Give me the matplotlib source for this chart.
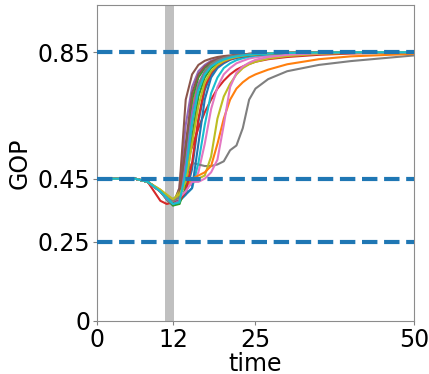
import matplotlib
matplotlib.use("Agg")
import matplotlib.pyplot as plt

# time grid shared by all runs
time = [0, 6, 8, 10, 11, 12, 13, 14, 15, 16, 17, 18, 19, 20, 21, 22, 23, 24, 25, 27, 30, 35, 40, 50]

run01 = [0.45,0.45,0.44,0.41,0.39,0.375,0.38,0.40,0.48,0.63,0.73,0.78,0.805,0.82,0.828,0.833,0.837,0.84,0.842,0.845,0.847,0.849,0.85,0.85]
run02 = [0.45,0.45,0.44,0.415,0.395,0.38,0.40,0.55,0.68,0.75,0.785,0.805,0.818,0.826,0.832,0.836,0.839,0.841,0.843,0.846,0.848,0.849,0.85,0.85]
run03 = [0.45,0.45,0.44,0.41,0.385,0.37,0.37,0.53,0.70,0.77,0.80,0.815,0.825,0.831,0.835,0.838,0.84,0.842,0.844,0.846,0.848,0.849,0.85,0.85]
run04 = [0.45,0.45,0.44,0.38,0.37,0.375,0.38,0.50,0.55,0.61,0.66,0.70,0.735,0.76,0.78,0.795,0.805,0.813,0.82,0.828,0.835,0.842,0.846,0.85]
run05 = [0.45,0.45,0.44,0.41,0.385,0.365,0.42,0.62,0.74,0.79,0.81,0.823,0.83,0.835,0.838,0.841,0.843,0.845,0.846,0.847,0.848,0.849,0.85,0.85]
run06 = [0.45,0.45,0.44,0.41,0.39,0.37,0.42,0.70,0.78,0.81,0.823,0.83,0.835,0.838,0.84,0.842,0.843,0.845,0.846,0.847,0.848,0.849,0.85,0.85]
run07 = [0.45,0.45,0.44,0.41,0.39,0.38,0.40,0.43,0.43,0.47,0.56,0.67,0.74,0.78,0.80,0.815,0.823,0.83,0.834,0.839,0.843,0.847,0.849,0.85]
run08 = [0.45,0.45,0.44,0.41,0.395,0.385,0.40,0.46,0.50,0.495,0.49,0.49,0.495,0.505,0.54,0.555,0.61,0.70,0.735,0.765,0.79,0.81,0.822,0.84]
run09 = [0.45,0.45,0.44,0.41,0.39,0.38,0.41,0.43,0.44,0.45,0.46,0.52,0.64,0.71,0.75,0.78,0.80,0.812,0.82,0.83,0.838,0.845,0.848,0.85]
run10 = [0.45,0.45,0.44,0.41,0.385,0.37,0.38,0.40,0.42,0.50,0.62,0.72,0.77,0.80,0.815,0.825,0.831,0.836,0.839,0.843,0.846,0.849,0.85,0.85]
run11 = [0.45,0.45,0.44,0.41,0.39,0.375,0.38,0.40,0.42,0.56,0.70,0.77,0.80,0.815,0.826,0.832,0.836,0.839,0.842,0.845,0.847,0.849,0.85,0.85]
run12 = [0.45,0.45,0.44,0.41,0.39,0.38,0.40,0.43,0.45,0.46,0.47,0.49,0.56,0.64,0.70,0.735,0.755,0.77,0.78,0.795,0.812,0.828,0.837,0.845]
run13 = [0.45,0.45,0.44,0.41,0.385,0.365,0.37,0.42,0.58,0.71,0.77,0.80,0.815,0.825,0.831,0.836,0.839,0.841,0.843,0.846,0.848,0.849,0.85,0.85]
run14 = [0.45,0.45,0.44,0.41,0.39,0.375,0.38,0.41,0.50,0.64,0.74,0.785,0.808,0.82,0.828,0.834,0.838,0.841,0.843,0.846,0.848,0.849,0.85,0.85]
run15 = [0.45,0.45,0.44,0.41,0.385,0.37,0.38,0.50,0.66,0.75,0.79,0.81,0.822,0.83,0.835,0.839,0.842,0.844,0.845,0.847,0.848,0.849,0.85,0.85]
run16 = [0.45,0.45,0.44,0.41,0.39,0.375,0.40,0.56,0.72,0.78,0.805,0.82,0.828,0.834,0.838,0.841,0.843,0.845,0.846,0.847,0.848,0.849,0.85,0.85]
run17 = [0.45,0.45,0.44,0.41,0.39,0.38,0.39,0.41,0.44,0.44,0.45,0.47,0.51,0.62,0.74,0.785,0.805,0.817,0.826,0.835,0.842,0.847,0.849,0.85]
run18 = [0.45,0.45,0.44,0.41,0.39,0.38,0.39,0.45,0.62,0.74,0.79,0.812,0.824,0.832,0.837,0.84,0.842,0.844,0.845,0.847,0.848,0.849,0.85,0.85]
run19 = [0.45,0.45,0.44,0.415,0.40,0.385,0.40,0.44,0.56,0.68,0.755,0.79,0.81,0.822,0.83,0.835,0.839,0.841,0.843,0.846,0.848,0.849,0.85,0.85]
run20 = [0.45,0.45,0.44,0.41,0.39,0.37,0.375,0.47,0.63,0.73,0.78,0.805,0.818,0.827,0.833,0.837,0.84,0.842,0.844,0.846,0.848,0.849,0.85,0.85]

runs = [run01, run02, run03, run04, run05, run06, run07, run08, run09, run10,
        run11, run12, run13, run14, run15, run16, run17, run18, run19, run20]

ref_levels = [0.85, 0.45, 0.25]
xticks = [0, 12, 25, 50]
yticks = [0, 0.25, 0.45, 0.85]
yticklabels = ["0", "0.25", "0.45", "0.85"]
band = (10.8, 12.2)

fig = plt.figure(figsize=(4.29, 3.74), dpi=100)
ax = fig.add_axes([0.226, 0.142, 0.739, 0.845])

ax.axvspan(band[0], band[1], color="silver", zorder=1, lw=0)
for r in runs:
    ax.plot(time, r, lw=1.5, zorder=2)
for lvl in ref_levels:
    ax.axhline(lvl, color="#1f77b4", lw=3, ls="--", zorder=3)

ax.set_xlim(0, 50)
ax.set_ylim(0, 1.0)
ax.set_xticks(xticks)
ax.set_yticks(yticks)
ax.set_yticklabels(yticklabels)
ax.tick_params(labelsize=17, length=3, color="0.5", pad=2)
for s in ax.spines.values():
    s.set_color("0.55")
ax.set_xlabel("time", fontsize=17, labelpad=0)
ax.set_ylabel("GOP", fontsize=17, labelpad=4)

fig.savefig("out.png", dpi=100)
